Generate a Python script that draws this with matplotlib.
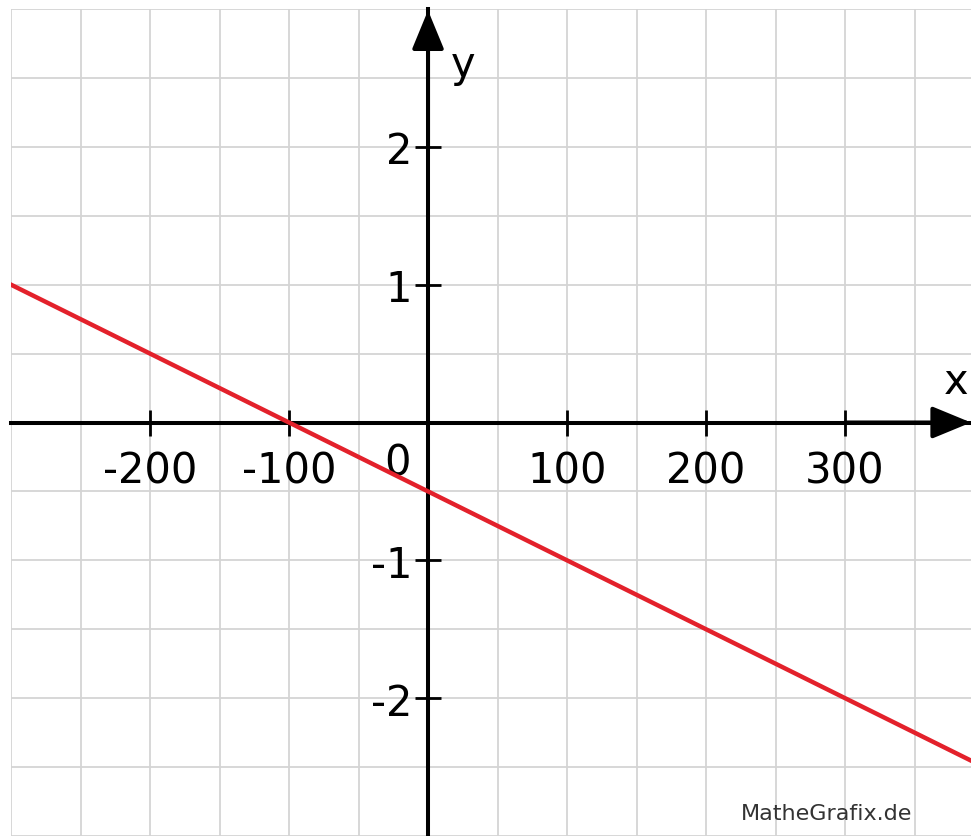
import matplotlib
matplotlib.use("Agg")
import matplotlib.pyplot as plt
import numpy as np

# Data
line_x = [-300, 400]
line_y = [1.0, -2.5]
x_ticks = [-200, -100, 100, 200, 300]
x_tick_labels = ["-200", "-100", "100", "200", "300"]
y_ticks = [-2, -1, 1, 2]
y_tick_labels = ["-2", "-1", "1", "2"]
x_grid = list(range(-300, 400, 50))
y_grid = [-3.0, -2.5, -2.0, -1.5, -1.0, -0.5, 0.0, 0.5, 1.0, 1.5, 2.0, 2.5, 3.0]

W, H = 971, 837
fig = plt.figure(figsize=(W / 100, H / 100), dpi=100)
fig.patch.set_facecolor("white")
ax = fig.add_axes([11 / W, 0, 960 / W, 827 / H])
ax.set_xlim(-300, 390.6)
ax.set_ylim(-2.95, 3.0)

# grid via minor ticks
ax.set_xticks(x_grid, minor=True)
ax.set_yticks(y_grid, minor=True)
ax.grid(which="both", color="#d4d4d4", linewidth=1.3)
ax.tick_params(which="minor", length=0)

for s in ["top", "right"]:
    ax.spines[s].set_visible(False)
ax.spines["left"].set_position(("data", 0))
ax.spines["bottom"].set_position(("data", 0))
ax.spines["left"].set_linewidth(2.9)
ax.spines["bottom"].set_linewidth(2.9)
ax.spines["left"].set_zorder(4)
ax.spines["bottom"].set_zorder(4)

ax.set_xticks(x_ticks)
ax.set_xticklabels(x_tick_labels)
ax.set_yticks(y_ticks)
ax.set_yticklabels(y_tick_labels)
ax.tick_params(which="major", direction="inout", length=19, width=2,
               labelsize=30, color="black")
ax.tick_params(axis="x", which="major", pad=10)
ax.tick_params(axis="y", which="major", pad=2)

# the function line
ax.plot(line_x, line_y, color="#e3212b", linewidth=3.2, zorder=5)

# arrows
ax.annotate("", xy=(390.6, 0), xytext=(300, 0),
            arrowprops=dict(arrowstyle="-|>,head_length=0.8,head_width=0.33",
                            mutation_scale=30, lw=2.9, color="black",
                            shrinkA=0, shrinkB=0), annotation_clip=False, zorder=6)
ax.annotate("", xy=(0, 2.99), xytext=(0, 2.0),
            arrowprops=dict(arrowstyle="-|>,head_length=0.8,head_width=0.33",
                            mutation_scale=30, lw=2.9, color="black",
                            shrinkA=0, shrinkB=0), annotation_clip=False, zorder=6)

ax.text(-22, -0.29, "0", fontsize=30, ha="center", va="center")
ax.text(380, 0.3, "x", fontsize=30, ha="center", va="center")
ax.text(25, 2.6, "y", fontsize=30, ha="center", va="center")

fig.text(912 / W, 1 - 814 / H, "MatheGrafix.de", fontsize=16, color="#333333",
         ha="right", va="center")

fig.savefig("out.png", dpi=100, facecolor="white")
